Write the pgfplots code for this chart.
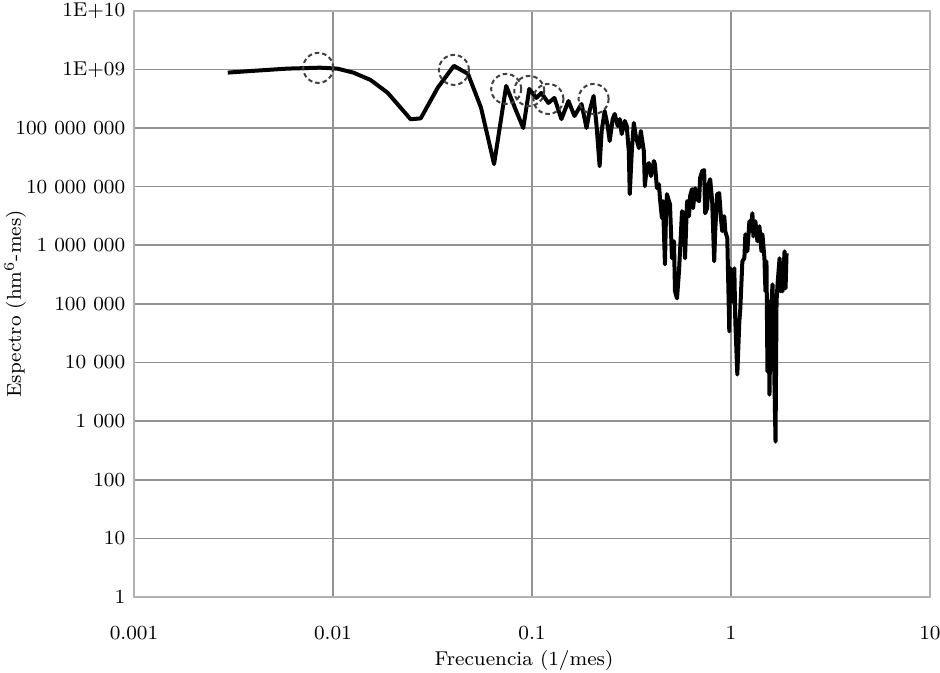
\documentclass[border=0pt]{standalone}
\usepackage{pgfplots}
\pgfplotsset{compat=1.18}
\begin{document}
\begin{tikzpicture}
\begin{axis}[
  scale only axis,
  width=318.4pt, height=234.5pt,
  xmode=log, ymode=log,
  xmin=0.001, xmax=10, ymin=1, ymax=1e10,
  xtick={0.001,0.01,0.1,1,10},
  xticklabels={0.001,0.01,0.1,1,10},
  ytick={1,10,100,1000,1e4,1e5,1e6,1e7,1e8,1e9,1e10},
  yticklabels={1,10,100,1 000,10 000,100 000,1 000 000,10 000 000,100 000 000,1E+09,1E+10},
  major tick length=0pt, minor tick length=0pt,
  grid=major,
  grid style={draw=gray!85, line width=0.65pt},
  axis line style={draw=gray!60, line width=0.9pt},
  tick label style={font=\footnotesize},
  xticklabel style={yshift=-8pt},
  label style={font=\footnotesize},
  xlabel={Frecuencia (1/mes)},
  ylabel={Espectro (hm$^6$-mes)},
  xlabel style={at={(axis description cs:0.49,0)}, anchor=center, yshift=-25.2pt},
  ylabel style={at={(axis description cs:0,0.5)}, anchor=center, rotate=0, yshift=47.6pt},
]
\addplot[black, line width=1.6pt, line join=round] coordinates {
(0.002960,8.81e8) (0.003958,9.43e8) (0.005876,1.03e9) (0.008629,1.07e9)
(0.01051,1.03e9) (0.01266,8.81e8) (0.01543,6.61e8) (0.01880,4.01e8)
(0.02187,2.22e8) (0.02457,1.41e8) (0.02760,1.46e8) (0.03363,4.89e8)
(0.04051,1.15e9) (0.04769,8.38e8) (0.05545,2.22e8) (0.06450,2.42e7)
(0.07419,5.22e8) (0.08330,1.95e8) (0.09039,1.0e8) (0.09692,4.64e8)
(0.1051,3.26e8) (0.1114,3.97e8) (0.1209,2.68e8) (0.1296,3.26e8)
(0.1406,1.42e8) (0.1525,2.89e8) (0.1635,1.60e8) (0.1774,2.57e8)
(0.1880,1.0e8) (0.1947,1.95e8) (0.2040,3.52e8) (0.2112,1.08e8)
(0.2187,2.24e7) (0.2239,8.89e7) (0.2318,1.95e8) (0.2401,1.08e8)
(0.2457,6.0e7) (0.2544,1.42e8) (0.2604,1.74e8) (0.2697,1.08e8)
(0.2760,1.42e8) (0.2825,7.90e7) (0.2925,1.32e8) (0.2994,1.08e8)
(0.3065,4.04e7) (0.3100,7.44e6) (0.3174,4.04e7) (0.3249,1.22e8)
(0.3325,7.30e7) (0.3443,4.55e7) (0.3524,8.89e7) (0.3565,6.75e7)
(0.3649,4.04e7) (0.3692,1.02e7) (0.3779,2.24e7) (0.3867,2.52e7)
(0.3959,1.51e7) (0.4005,1.84e7) (0.4099,2.73e7) (0.4147,2.42e7)
(0.4245,9.43e6) (0.4345,1.10e7) (0.4395,6.36e6) (0.4498,2.89e6)
(0.4551,5.65e6) (0.4658,4.73e5) (0.4712,3.13e6) (0.4767,7.44e6)
(0.4879,5.65e6) (0.4937,5.02e6) (0.5052,6.0e5) (0.5171,1.17e6)
(0.5231,1.64e5) (0.5355,1.24e5) (0.5480,3.59e5) (0.5545,7.90e5)
(0.5675,3.81e6) (0.5808,3.13e6) (0.5876,6.0e5) (0.6015,5.65e6)
(0.6156,3.13e6) (0.6228,6.88e6) (0.6374,9.06e6) (0.6449,4.29e6)
(0.6600,9.43e6) (0.6756,6.11e6) (0.6915,5.65e6) (0.6995,1.40e7)
(0.7163,1.84e7) (0.7331,1.91e7) (0.7417,3.52e6) (0.7592,4.29e6)
(0.7681,1.05e7) (0.7861,1.34e7) (0.8045,5.65e6) (0.8234,5.33e5)
(0.8331,1.74e6) (0.8527,7.44e6) (0.8727,7.74e6) (0.8933,2.57e6)
(0.9040,1.74e6) (0.9252,3.13e6) (0.9361,1.74e6) (0.9581,1.32e6)
(0.9807,3.39e4) (0.9921,4.04e5) (1.0153,1.10e5) (1.0392,4.04e5)
(1.0513,5.02e4) (1.0761,6.23e3) (1.1014,5.02e4) (1.1143,8.38e4)
(1.1406,5.33e5) (1.1674,6.0e5) (1.1811,1.54e6) (1.2089,7.90e5)
(1.2373,2.57e6) (1.2518,1.74e6) (1.281,3.52e6) (1.2960,1.42e6)
(1.3265,2.57e6) (1.3577,1.17e6) (1.3896,2.11e6) (1.4224,7.90e5)
(1.439,1.54e6) (1.4728,6.0e5) (1.4901,1.64e5) (1.5075,5.33e5)
(1.5252,7.02e3) (1.5430,1.10e5) (1.5610,2.84e3) (1.5793,5.02e4)
(1.617,2.15e5) (1.6359,3.39e4) (1.6744,446) (1.6940,1.10e5)
(1.7139,2.15e5) (1.7541,6.0e5) (1.7747,1.64e5) (1.7955,4.92e5)
(1.816,1.64e5) (1.8587,7.90e5) (1.8805,1.84e5) (1.9024,7.30e5)
};
\addplot[only marks, mark=o, mark size=6pt,
  mark options={draw=gray!50!black, line width=0.8pt, dash pattern=on 1.8pt off 1.2pt}]
coordinates {
(0.008429,1.06e9) (0.04051,9.8e8) (0.07419,4.64e8) (0.09692,4.29e8)
(0.1209,3.13e8) (0.2040,3.13e8)
};
\end{axis}
\pgfresetboundingbox
\path[use as bounding box] ([xshift=-53.6pt,yshift=-30pt]current axis.south west) rectangle ([xshift=4pt,yshift=4.3pt]current axis.north east);
\end{tikzpicture}
\end{document}
